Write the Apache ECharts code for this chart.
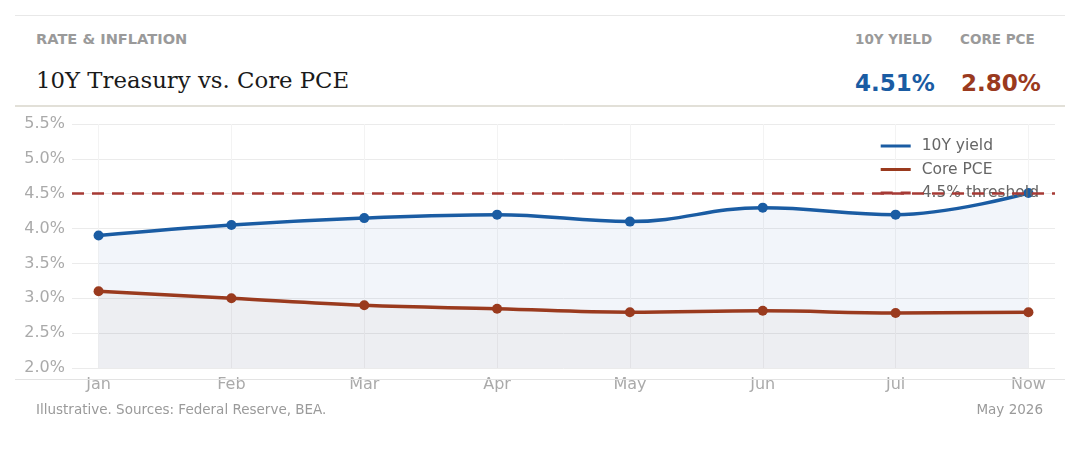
<!DOCTYPE html>
<html>
<head>
<meta charset="utf-8">
<script src="https://cdn.jsdelivr.net/npm/echarts@6/dist/echarts.min.js"></script>
<style>
  html, body { margin: 0; padding: 0; background: #fff; }
  body { width: 1080px; height: 450px; position: relative; overflow: hidden; font-family: "DejaVu Sans", sans-serif; }
  .rule-top { position: absolute; left: 15px; top: 15px; width: 1050px; height: 1px; background: #e8e8e8; }
  .rule-head { position: absolute; left: 15px; top: 105px; width: 1050px; height: 2px; background: #e2e0d8; }
  .rule-foot { position: absolute; left: 15px; top: 379px; width: 1050px; height: 1px; background: #e3e3e3; z-index: 5; }
  .kicker { position: absolute; left: 36px; top: 30px; font-size: 14.6px; font-weight: bold; color: #9a9a9a; }
  .title { position: absolute; left: 36px; top: 67px; font-family: "DejaVu Serif", serif; font-size: 22.8px; color: #1a1a1a; }
  .stat { position: absolute; top: 31px; font-size: 13.5px; font-weight: bold; color: #9a9a9a; }
  .val { position: absolute; top: 70px; font-size: 23px; font-weight: bold; }
  .foot { position: absolute; top: 401px; font-size: 13.5px; color: #9a9a9a; }
  #main { position: absolute; left: 0; top: 106px; width: 1080px; height: 300px; }
</style>
</head>
<body>
<div class="rule-top"></div>
<div class="kicker">RATE &amp; INFLATION</div>
<div class="title">10Y Treasury vs. Core PCE</div>
<div class="stat" style="left:855px">10Y YIELD</div>
<div class="stat" style="left:960px">CORE PCE</div>
<div class="val" style="left:855px;color:#1a5ca3">4.51%</div>
<div class="val" style="left:961px;color:#9a3a1e">2.80%</div>
<div class="rule-head"></div>
<div id="main"></div>
<div class="rule-foot"></div>
<div class="foot" style="left:36px">Illustrative. Sources: Federal Reserve, BEA.</div>
<div class="foot" style="right:37px">May 2026</div>
<script>
// data
var months = ["Jan", "Feb", "Mar", "Apr", "May", "Jun", "Jul", "Now"];
var yield10y = [3.90, 4.05, 4.15, 4.20, 4.10, 4.30, 4.20, 4.51];
var corePce = [3.10, 3.00, 2.90, 2.85, 2.80, 2.82, 2.79, 2.80];
var threshold = 4.5;
var yTicks = [2.0, 2.5, 3.0, 3.5, 4.0, 4.5, 5.0, 5.5];

var blue = "#1a5ca3";
var red = "#9a3a1e";
var dash = "#a63a35";

function pairs(arr) {
  return arr.map(function (v, i) { return [i, v]; });
}
var xIdx = months.map(function (m, i) { return i; });

var chart = echarts.init(document.getElementById("main"));
chart.setOption({
  animation: false,
  textStyle: { fontFamily: "DejaVu Sans" },
  grid: { left: 72, right: 25, top: 18, bottom: 38, containLabel: false },
  legend: {
    orient: "vertical",
    right: 36,
    top: 27,
    itemWidth: 30,
    itemHeight: 14,
    itemGap: 7.5,
    textStyle: { color: "#666", fontSize: 15.5, padding: [0, 0, 0, 6] },
    itemStyle: { opacity: 0 },
    lineStyle: { width: 3 },
    data: ["10Y yield", "Core PCE", "4.5% threshold"]
  },
  xAxis: {
    type: "value",
    min: -0.2,
    max: 7.2,
    axisLine: { show: false },
    axisTick: { show: false, customValues: xIdx },
    axisLabel: {
      customValues: xIdx,
      color: "#aaa",
      fontSize: 16,
      margin: 9,
      formatter: function (v) { return months[Math.round(v)]; }
    },
    splitLine: { show: true, lineStyle: { color: "#f3f3f3", width: 1 } }
  },
  yAxis: {
    type: "value",
    min: yTicks[0],
    max: yTicks[yTicks.length - 1],
    interval: 0.5,
    axisLine: { show: false },
    axisTick: { show: false },
    axisLabel: {
      color: "#aaa",
      fontSize: 16,
      margin: 7,
      formatter: function (v) { return v.toFixed(1) + "%"; }
    },
    splitLine: { lineStyle: { color: "#ebebeb", width: 1 } }
  },
  series: [
    {
      name: "4.5% threshold",
      type: "line",
      data: [],
      symbol: "none",
      color: dash,
      lineStyle: { color: dash, width: 2.5, type: [12, 8] },
      markLine: {
        silent: true,
        symbol: "none",
        label: { show: false },
        lineStyle: { color: dash, width: 2.5, type: [12, 8] },
        data: [{ yAxis: threshold }]
      },
      z: 1
    },
    {
      name: "10Y yield",
      type: "line",
      data: pairs(yield10y),
      smooth: 0.4,
      symbol: "circle",
      symbolSize: 10,
      color: blue,
      lineStyle: { color: blue, width: 3.5 },
      itemStyle: { color: blue },
      areaStyle: { color: blue, opacity: 0.06, origin: "start" },
      z: 3
    },
    {
      name: "Core PCE",
      type: "line",
      data: pairs(corePce),
      smooth: 0.4,
      symbol: "circle",
      symbolSize: 10,
      color: red,
      lineStyle: { color: red, width: 3.5 },
      itemStyle: { color: red },
      areaStyle: { color: "#8a5a50", opacity: 0.045, origin: "start" },
      z: 3
    }
  ]
});
</script>
</body>
</html>
